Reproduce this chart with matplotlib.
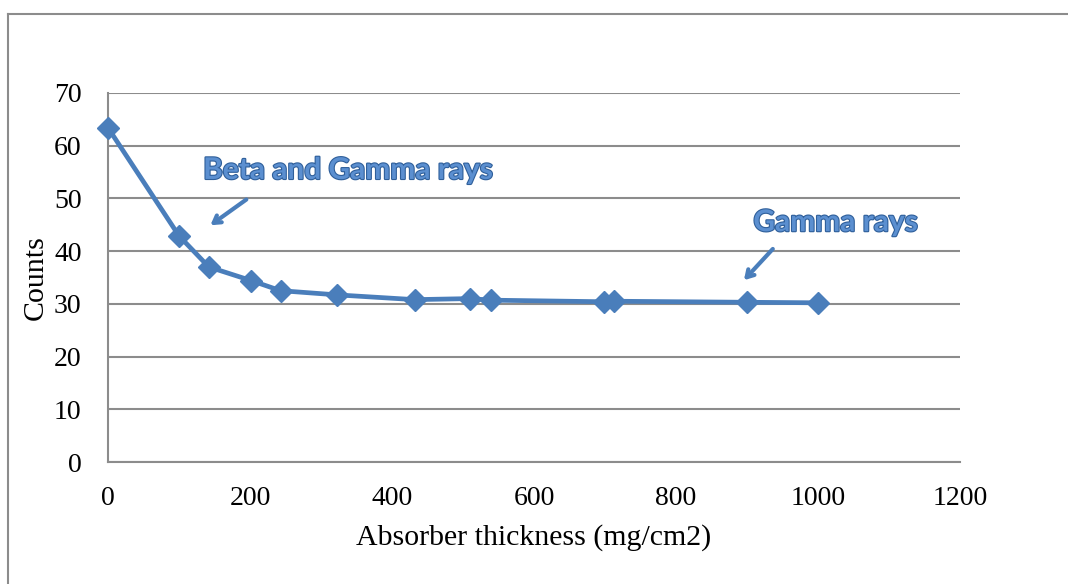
import matplotlib
matplotlib.use("Agg")
import matplotlib.pyplot as plt
import matplotlib.patheffects as pe
from matplotlib.lines import Line2D

thickness = [0, 100, 142, 202, 243, 323, 432, 510, 540, 698, 712, 900, 1000]
counts = [63.4, 42.9, 37.0, 34.4, 32.5, 31.7, 30.8, 31.0, 30.7, 30.4, 30.5, 30.3, 30.2]
x_ticks = [0, 200, 400, 600, 800, 1000, 1200]
y_ticks = [0, 10, 20, 30, 40, 50, 60, 70]
x_label = "Absorber thickness (mg/cm2)"
y_label = "Counts"
note_beta = "Beta and Gamma rays"
note_gamma = "Gamma rays"

blue = "#4a7ebb"
grid_gray = "#8c8c8c"

fig = plt.figure(figsize=(10.68, 5.84), dpi=100)
ax = fig.add_axes([108/1068, 1-462/584, (960-108)/1068, (462-93)/584])

ax.plot(thickness, counts, color=blue, lw=3.4, marker="D", markersize=11,
        markerfacecolor=blue, markeredgecolor=blue, zorder=3, clip_on=False)

ax.set_xlim(0, 1200)
ax.set_ylim(0, 70)
ax.set_xticks(x_ticks)
ax.set_yticks(y_ticks)
serif = ["Liberation Serif", "DejaVu Serif"]
ax.set_xticklabels([str(v) for v in x_ticks], family=serif, fontsize=20)
ax.set_yticklabels([str(v) for v in y_ticks], family=serif, fontsize=20)
ax.tick_params(axis="both", length=0)
ax.tick_params(axis="x", pad=17)
ax.tick_params(axis="y", pad=19)
ax.yaxis.grid(True, color=grid_gray, lw=1.5)
ax.set_axisbelow(True)
for s in ["top", "right"]:
    ax.spines[s].set_visible(False)
for s in ["left", "bottom"]:
    ax.spines[s].set_color(grid_gray)
    ax.spines[s].set_linewidth(1.5)

ax.set_xlabel(x_label, family=serif, fontsize=21.5, labelpad=10)
ax.set_ylabel(y_label, family=serif, fontsize=21.5, labelpad=4)

effects = [pe.withStroke(linewidth=1.6, foreground="#2f5f9a")]
ax.text(134, 55.4, note_beta, color="#5b8fd0", fontsize=21.5, fontweight="bold",
        family=["Lato", "DejaVu Sans"], va="center", ha="left", path_effects=effects)
ax.text(909, 45.5, note_gamma, color="#5b8fd0", fontsize=21.5, fontweight="bold",
        family=["Lato", "DejaVu Sans"], va="center", ha="left", path_effects=effects)

ax.annotate("", xy=(141, 44.6), xytext=(198, 50.1),
            arrowprops=dict(arrowstyle="->,head_length=0.5,head_width=0.3",
                            color=blue, lw=3))
ax.annotate("", xy=(893, 34.1), xytext=(939, 40.8),
            arrowprops=dict(arrowstyle="->,head_length=0.5,head_width=0.3",
                            color=blue, lw=3))

# outer chart frame
fig.add_artist(Line2D([8/1068, 8/1068], [0, 1-14/584], transform=fig.transFigure,
                      color=grid_gray, lw=1.5))
fig.add_artist(Line2D([8/1068, 1], [1-14/584, 1-14/584], transform=fig.transFigure,
                      color=grid_gray, lw=1.5))

fig.savefig("out.png", dpi=100)
